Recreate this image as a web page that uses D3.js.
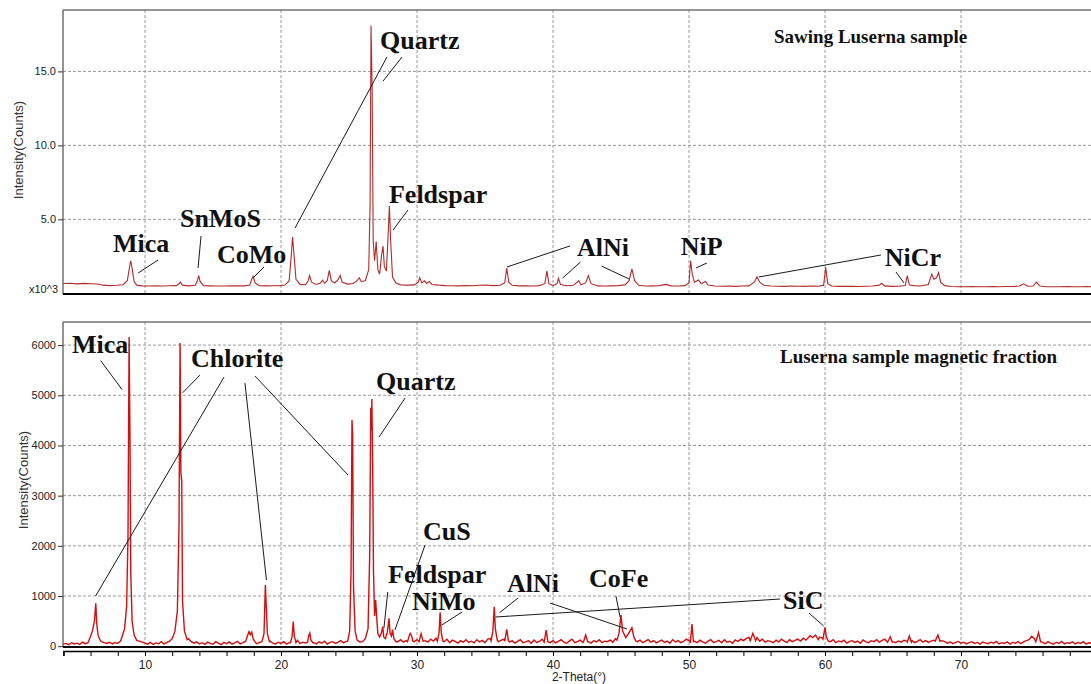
<!DOCTYPE html>
<html>
<head>
<meta charset="utf-8">
<script src="https://cdn.jsdelivr.net/npm/d3@7"></script>
<style>
  body { margin: 0; background: #fff; }
  svg { display: block; }
  .tick text { font-family: "Liberation Sans", Arial, sans-serif; fill: #222; }
  .lbl { font-family: "Liberation Serif", "Times New Roman", serif; font-weight: bold; fill: #111; }
</style>
</head>
<body>
<div id="container"></div>
<script>
/* DATA */
// top pattern: 2-theta (deg), intensity (x10^3 counts)
const sawingPattern = [
  [4.0,0.66],[4.5,0.68],[5.0,0.64],[5.5,0.67],[6.0,0.65],[6.5,0.63],[6.9,0.55],[7.4,0.52],[7.9,0.54],[8.4,0.58],
  [8.7,0.85],[8.85,1.7],[8.95,2.2],[9.05,1.7],[9.2,0.8],[9.4,0.55],[9.8,0.5],[10.3,0.49],[10.8,0.5],[11.3,0.49],
  [11.8,0.51],[12.3,0.52],[12.5,0.64],[12.6,0.76],[12.75,0.55],[13.2,0.5],[13.7,0.54],[13.85,0.85],[13.95,1.2],[14.05,0.8],
  [14.3,0.52],[14.8,0.5],[15.3,0.49],[15.8,0.49],[16.3,0.5],[16.8,0.51],[17.3,0.5],[17.7,0.56],[17.85,0.95],[17.95,1.15],
  [18.1,0.7],[18.4,0.51],[18.9,0.5],[19.4,0.51],[19.9,0.52],[20.3,0.56],[20.6,0.85],[20.75,2.5],[20.85,3.8],[20.95,2.7],
  [21.1,0.95],[21.4,0.6],[21.8,0.58],[22.0,0.85],[22.1,1.2],[22.25,0.75],[22.6,0.6],[22.9,0.7],[23.05,0.88],[23.2,0.68],
  [23.4,0.85],[23.55,1.55],[23.7,0.85],[23.95,0.7],[24.2,0.92],[24.35,1.2],[24.5,0.75],[24.9,0.62],[25.3,0.66],[25.6,0.85],
  [25.75,1.05],[25.9,0.8],[26.2,0.85],[26.45,1.6],[26.55,6.0],[26.62,18.1],[26.7,14.0],[26.78,3.5],[26.88,2.2],[27.0,3.5],
  [27.12,1.6],[27.25,1.3],[27.4,2.6],[27.5,3.2],[27.6,1.8],[27.75,1.5],[27.88,4.0],[27.97,5.9],[28.06,3.6],[28.2,1.1],
  [28.45,0.7],[28.8,0.57],[29.3,0.55],[29.8,0.57],[30.1,0.75],[30.2,1.05],[30.35,0.7],[30.55,0.85],[30.7,0.67],[30.9,0.8],
  [31.1,0.6],[31.6,0.55],[32.1,0.52],[32.6,0.51],[33.1,0.5],[33.6,0.52],[34.1,0.51],[34.6,0.54],[35.1,0.56],[35.6,0.52],
  [36.1,0.54],[36.45,0.7],[36.6,1.7],[36.75,0.75],[37.0,0.54],[37.5,0.5],[38.0,0.51],[38.5,0.49],[39.0,0.52],[39.4,0.65],
  [39.55,1.5],[39.7,0.65],[40.0,0.52],[40.3,0.65],[40.4,1.0],[40.55,0.6],[41.0,0.51],[41.5,0.54],[41.9,0.85],[42.05,0.57],
  [42.4,0.7],[42.6,1.2],[42.8,0.65],[43.3,0.5],[43.8,0.49],[44.3,0.5],[44.8,0.52],[45.3,0.57],[45.6,0.85],[45.8,1.65],
  [46.0,0.85],[46.3,0.54],[46.8,0.49],[47.3,0.5],[47.8,0.52],[48.3,0.6],[48.7,0.5],[49.2,0.49],[49.7,0.52],[50.0,0.7],
  [50.12,2.2],[50.25,1.25],[50.4,0.75],[50.7,0.9],[50.9,0.65],[51.2,0.8],[51.4,0.56],[51.9,0.49],[52.4,0.48],[52.9,0.49],
  [53.4,0.47],[53.9,0.49],[54.4,0.5],[54.8,0.75],[55.0,1.1],[55.2,0.75],[55.5,0.54],[56.0,0.49],[56.5,0.48],[57.0,0.47],
  [57.5,0.49],[58.0,0.48],[58.5,0.47],[59.0,0.49],[59.5,0.48],[59.9,0.55],[60.05,1.75],[60.2,0.65],[60.5,0.49],[61.0,0.47],
  [61.5,0.48],[62.0,0.47],[62.5,0.46],[63.0,0.48],[63.5,0.49],[64.0,0.55],[64.15,0.68],[64.4,0.5],[64.9,0.47],[65.4,0.48],
  [65.9,0.52],[66.05,1.2],[66.2,0.57],[66.5,0.52],[67.0,0.49],[67.6,0.6],[67.85,1.3],[68.0,0.95],[68.2,1.05],[68.35,1.4],
  [68.5,0.75],[68.8,0.52],[69.3,0.46],[69.8,0.44],[70.3,0.44],[70.8,0.45],[71.3,0.44],[71.8,0.44],[72.3,0.45],[72.8,0.44],
  [73.3,0.46],[73.8,0.46],[74.3,0.49],[74.6,0.64],[74.9,0.48],[75.3,0.49],[75.55,0.75],[75.8,0.49],[76.3,0.44],[76.8,0.44],
  [77.3,0.44],[77.8,0.46],[78.3,0.44],[78.8,0.44],[79.3,0.45],[80.0,0.44]
]

// bottom pattern background counts, one value every 0.2 deg from 4.0
const magStart = 4.0, magStep = 0.2
const magBase = [
  40,55,30,70,45,60,35,80,50,65,   90,120,150,130,90,70,55,80,45,70,
  60,100,150,200,300,300,200,150,100,80,   60,40,75,35,65,50,90,45,70,100,
  130,180,300,500,600,300,150,90,60,85,   45,70,35,80,55,40,90,60,30,75,
  50,85,40,65,95,45,70,55,110,60,   80,50,70,90,150,200,100,60,45,80,
  55,90,40,70,95,60,120,50,80,65,   100,150,70,45,85,60,100,40,75,90,
  55,80,110,65,95,70,130,100,60,85,   90,130,200,300,300,300,300,200,180,150,
  200,220,110,90,130,80,110,170,120,90,   130,200,160,110,80,140,100,160,300,120,
  90,140,70,120,95,60,110,80,130,75,   100,65,130,85,115,70,140,150,200,130,
  90,120,140,200,80,110,60,95,130,70,   85,110,60,125,75,95,140,200,90,70,
  110,65,95,130,80,60,100,140,70,90,   120,75,150,90,60,110,85,130,70,100,
  90,120,80,150,200,250,200,180,250,300,   140,90,120,70,100,130,80,110,65,95,
  120,75,100,60,130,85,110,70,95,140,   110,250,100,70,120,85,60,100,130,75,
  90,115,70,130,80,100,60,125,95,140,   110,150,180,160,130,170,100,140,80,110,
  95,70,120,85,140,100,75,130,90,115,   140,100,160,130,180,200,170,150,180,160,
  200,120,90,130,70,105,85,120,60,95,   110,75,100,60,125,85,70,110,90,130,
  80,115,140,160,120,90,70,105,80,120,   100,150,110,70,95,130,80,110,75,100,
  120,150,180,110,90,60,85,50,75,95,   60,80,45,70,90,55,75,40,85,65,
  50,80,60,95,45,70,55,85,40,75,   60,90,50,85,110,130,200,150,80,60,
  75,50,90,60,40,80,55,95,45,70,   60,85,45,75,55,90,40,70,60,80,
  55
]

// bottom pattern peaks: 2-theta, counts
const magPeaks = [
  [[6.0,200],[6.15,320],[6.28,500],[6.38,855],[6.45,450],[6.55,220],[6.7,120]],
  [[8.3,180],[8.5,350],[8.65,800],[8.75,2200],[8.83,6160],[8.9,4000],[8.95,1500],[9.05,500],[9.2,220],[9.4,110]],
  [[12.0,150],[12.2,300],[12.38,700],[12.5,2400],[12.58,6040],[12.64,3450],[12.7,3300],[12.76,900],[12.9,300],[13.1,130]],
  [[17.4,100],[17.55,220],[17.65,290],[17.75,230],[17.85,280],[17.95,150],[18.1,80]],
  [[18.6,90],[18.75,250],[18.85,1220],[18.93,700],[19.0,250],[19.15,90]],
  [[20.7,70],[20.82,200],[20.9,490],[20.98,200],[21.1,70]],
  [[21.95,80],[22.05,220],[22.12,263],[22.2,120],[22.35,70]],
  [[24.9,100],[25.05,300],[25.15,1500],[25.22,4505],[25.27,4200],[25.33,1200],[25.45,300],[25.6,120]],
  [[26.2,150],[26.4,350],[26.52,1800],[26.6,4750],[26.64,4300],[26.68,4925],[26.74,3600],[26.8,1500],[26.88,600],[26.96,920],
   [27.03,600],[27.12,250],[27.25,180],[27.38,260],[27.48,390],[27.56,180],[27.68,150],[27.82,280],[27.94,556],[28.02,260],
   [28.12,200],[28.2,330],[28.3,150],[28.45,90]],
  [[29.3,90],[29.42,200],[29.5,257],[29.6,210],[29.7,100]],
  [[30.15,90],[30.3,250],[30.45,100]],
  [[31.5,100],[31.62,260],[31.7,675],[31.78,280],[31.9,100]],
  [[35.45,110],[35.58,300],[35.68,787],[35.76,350],[35.9,120]],
  [[36.45,100],[36.6,337],[36.72,110]],
  [[39.35,80],[39.5,322],[39.62,90]],
  [[42.25,90],[42.4,223],[42.55,90]],
  [[44.7,120],[44.85,250],[45.0,620],[45.12,300],[45.35,170],[45.55,250],[45.8,368],[45.95,180],[46.1,100]],
  [[50.1,80],[50.22,442],[50.32,90]],
  [[54.5,110],[54.7,257],[54.9,110]],
  [[58.6,120],[58.9,210],[59.1,170],[59.3,223],[59.5,130]],
  [[59.85,140],[60.0,376],[60.1,180],[60.25,100]],
  [[64.6,80],[64.8,190],[64.95,80]],
  [[66.05,80],[66.2,203],[66.35,80]],
  [[68.1,100],[68.3,223],[68.45,100]],
  [[75.5,90],[75.7,269],[75.85,90]]
]

// ticks
const xMinorTicks = [4,6,8,10,12,14,16,18,20,22,24,26,28,30,32,34,36,38,40,42,44,46,48,50,52,54,56,58,60,62,64,66,68,70,72,74,76,78,80]
const xTickLabels = [10,20,30,40,50,60,70]
const topTicks = [5, 10, 15]
const botTicks = [0, 1000, 2000, 3000, 4000, 5000, 6000]

// annotations: text, 2-theta, intensity (text start / baseline)
const sawLabels = [
  ["Mica", 7.65, 2.79], ["SnMoS", 12.57, 4.48], ["CoMo", 15.29, 2.04], ["Quartz", 27.28, 16.5],
  ["Feldspar", 27.94, 6.10], ["AlNi", 41.76, 2.52], ["NiP", 49.4, 2.59], ["NiCr", 64.4, 1.84]
]
const sawLeaders = [
  [10.96,2.25, 9.49,1.37], [14.12,3.87, 13.90,1.71], [18.75,1.78, 17.94,1.03],
  [27.79,15.97, 21.03,4.41], [28.90,15.97, 27.50,14.34], [29.34,5.63, 28.24,4.28],
  [41.25,3.2, 36.62,1.78], [42.02,2.11, 40.71,1.03], [43.57,1.84, 45.59,0.97],
  [51.32,2.05, 50.51,1.71], [64.12,2.59, 55.12,1.10], [65.22,1.44, 65.81,0.70]
]
const magLabels = [
  ["Mica", 4.63, 5840], ["Chlorite", 13.38, 5562], ["Quartz", 26.99, 5100], ["CuS", 30.44, 2116],
  ["Feldspar", 27.87, 1259], ["NiMo", 29.63, 721], ["AlNi", 36.62, 1080], ["CoFe", 42.65, 1179], ["SiC", 56.91, 741]
]
const magLeaders = [
  [6.74,5691, 8.31,5113], [14.04,5402, 12.77,5050], [15.81,5363, 6.37,1000], [17.35,5243, 18.93,1319],
  [18.09,5383, 24.93,3410], [29.12,4944, 27.21,4167], [30.59,2016, 28.38,323], [27.85,1080, 27.57,363],
  [33.31,681, 31.82,422], [37.43,960, 36.07,667], [39.78,861, 45.44,343], [44.63,1000, 44.93,582],
  [56.69,940, 35.78,582], [58.82,661, 59.90,402]
]
const sawTitle = ["Sawing Luserna sample", 56.25, 16.9]
const magTitle = ["Luserna sample magnetic fraction", 56.69, 5641]

/* SCALES */
const width = 1091, height = 684
const left = 63
const xScale = d3.scaleLinear().domain([4, 80]).range([63.4, 1097])
const topY = d3.scaleLinear().domain([0, 19.15]).range([293.3, 10])
const botY = d3.scaleLinear().domain([0, 6460]).range([646.2, 322])

const svg = d3.select("#container").append("svg")
  .attr("width", width).attr("height", height)

function panel(yScale, yTicks, fmt, gridY) {
  const [y0, y1] = yScale.range()
  // grid
  svg.append("g").selectAll("line").data(xTickLabels).join("line")
    .attr("x1", d => xScale(d)).attr("x2", d => xScale(d))
    .attr("y1", y1).attr("y2", y0)
    .attr("stroke", "#9a9a9a").attr("stroke-dasharray", "3,2")
  svg.append("g").selectAll("line").data(gridY).join("line")
    .attr("x1", left).attr("x2", width)
    .attr("y1", d => yScale(d)).attr("y2", d => yScale(d))
    .attr("stroke", "#9a9a9a").attr("stroke-dasharray", "3,2")
  // frame
  svg.append("line").attr("x1", left).attr("x2", width).attr("y1", y1).attr("y2", y1)
    .attr("stroke", "#707070").attr("stroke-width", 1.5)
  svg.append("line").attr("x1", left).attr("x2", left).attr("y1", y1).attr("y2", y0 + 1)
    .attr("stroke", "#707070").attr("stroke-width", 1.5)
  svg.append("line").attr("x1", left).attr("x2", width).attr("y1", y0 + 0.8).attr("y2", y0 + 0.8)
    .attr("stroke", "#000").attr("stroke-width", 2)
  // y axis
  const g = svg.append("g").attr("transform", `translate(${left},0)`)
    .call(d3.axisLeft(yScale).tickValues(yTicks).tickFormat(fmt).tickSize(5).tickPadding(2))
  g.select(".domain").remove()
  g.selectAll(".tick line").attr("stroke", "#333")
  g.selectAll(".tick text").style("font-size", "11px")
}

panel(topY, topTicks, d3.format(".1f"), topTicks)
panel(botY, botTicks, d3.format("d"), botTicks.slice(1))

svg.append("text").attr("x", 58).attr("y", 293).attr("text-anchor", "end")
  .style("font-family", "Liberation Sans, Arial, sans-serif").style("font-size", "11px").attr("fill", "#222")
  .text("x10^3")

// x axis
const xAxis = svg.append("g").attr("transform", "translate(0,651)")
  .call(d3.axisBottom(xScale).tickValues(xMinorTicks)
    .tickFormat(d => xTickLabels.includes(d) ? d : "").tickSize(5).tickPadding(4))
xAxis.select(".domain").attr("stroke", "#000").attr("stroke-width", 1.5)
xAxis.selectAll(".tick text").style("font-size", "12px")

svg.append("text").attr("x", 579).attr("y", 681).attr("text-anchor", "middle")
  .style("font-family", "Liberation Sans, Arial, sans-serif").style("font-size", "12px").attr("fill", "#222")
  .text("2-Theta(°)")

// y titles
;[[18, 150], [23, 480]].forEach(p => {
  svg.append("text").attr("transform", `translate(${p[0]},${p[1]}) rotate(-90)`)
    .attr("text-anchor", "middle").attr("dominant-baseline", "central")
    .style("font-family", "Liberation Sans, Arial, sans-serif").style("font-size", "13px").attr("fill", "#333")
    .text("Intensity(Counts)")
})

/* TRACES */
const topLine = d3.line().x(d => xScale(d[0])).y(d => topY(d[1]))
svg.append("path").datum(sawingPattern).attr("d", topLine)
  .attr("fill", "none").attr("stroke", "#b22a2a").attr("stroke-width", 1.1)

const magPoints = magBase.map((v, i) => [magStart + i * magStep, v])
  .filter(p => !magPeaks.some(g => p[0] >= g[0][0] - 0.01 && p[0] <= g[g.length - 1][0] + 0.01))
  .concat(magPeaks.flat())
  .sort((a, b) => a[0] - b[0])
const botLine = d3.line().x(d => xScale(d[0])).y(d => botY(d[1]))
svg.append("path").datum(magPoints).attr("d", botLine)
  .attr("fill", "none").attr("stroke", "#d20f0f").attr("stroke-width", 1.4)

/* ANNOTATIONS */
function annotate(yScale, labels, leaders, title) {
  svg.append("g").selectAll("line").data(leaders).join("line")
    .attr("x1", d => xScale(d[0])).attr("y1", d => yScale(d[1]))
    .attr("x2", d => xScale(d[2])).attr("y2", d => yScale(d[3]))
    .attr("stroke", "#1a1a1a").attr("stroke-width", 1)
  svg.append("g").selectAll("text").data(labels).join("text")
    .attr("class", "lbl")
    .attr("x", d => xScale(d[1])).attr("y", d => yScale(d[2]))
    .style("font-size", "26px")
    .text(d => d[0])
  svg.append("text").attr("class", "lbl")
    .attr("x", xScale(title[1])).attr("y", yScale(title[2]))
    .style("font-size", "19px")
    .text(title[0])
}
annotate(topY, sawLabels, sawLeaders, sawTitle)
annotate(botY, magLabels, magLeaders, magTitle)
</script>
</body>
</html>
